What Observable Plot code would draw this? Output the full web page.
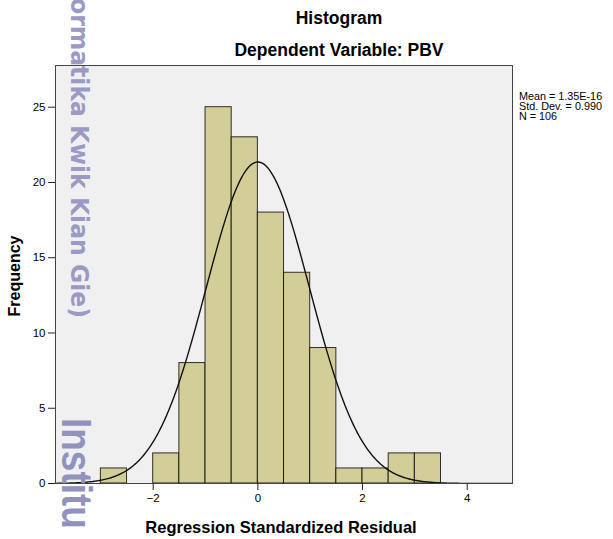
<!DOCTYPE html>
<html>
<head>
<meta charset="utf-8">
<script src="https://cdn.jsdelivr.net/npm/d3@7"></script>
<script src="https://cdn.jsdelivr.net/npm/@observablehq/plot@0.6"></script>
<style>
  html, body { margin: 0; padding: 0; background: #fff; }
  #chart { width: 613px; height: 539px; overflow: hidden; }
</style>
</head>
<body>
<div id="chart"></div>
<script>
// Histogram bins (lower edges) and frequencies, bin width 0.5
const binStart = [-3, -2, -1.5, -1, -0.5, 0, 0.5, 1, 1.5, 2, 2.5, 3];
const frequency = [1, 2, 8, 25, 23, 18, 14, 9, 1, 1, 2, 2];
const binWidth = 0.5;

// Fitted normal curve parameters (from the legend)
const statMean = 1.35e-16;
const statSD = 0.990;
const statN = 106;
const legendLines = ["Mean = 1.35E-16", "Std. Dev. = 0.990", "N = 106"];

const xTicks = [-2, 0, 2, 4];
const yTicks = [0, 5, 10, 15, 20, 25];
const xDomain = [-3.867, 4.866];
const yDomain = [0, 27.77];

const bars = binStart.map((b, i) => ({x1: b, x2: b + binWidth, y: frequency[i]}));

// Theoretical normal density scaled to counts: N * binWidth * pdf(x)
const curvePts = d3.range(xDomain[0], xDomain[1] + 0.001, 0.02).map(x => ({
  x,
  y: statN * binWidth * Math.exp(-0.5 * ((x - statMean) / statSD) ** 2) / (statSD * Math.sqrt(2 * Math.PI))
}));

const font = "'Liberation Sans', Arial, sans-serif";

const chart = Plot.plot({
  width: 613,
  height: 539,
  marginLeft: 55,
  marginRight: 101,
  marginTop: 65,
  marginBottom: 56,
  style: {fontFamily: font, fontSize: "11px", background: "#fff", color: "#000"},
  x: {domain: xDomain},
  y: {domain: yDomain},
  marks: [
    Plot.frame({fill: "#f0f0f0", stroke: null}),
    Plot.rectY(bars, {x1: "x1", x2: "x2", y: "y", fill: "#d3ce97", stroke: "#000", strokeOpacity: 0.8, strokeWidth: 1}),
    Plot.line(curvePts, {x: "x", y: "y", stroke: "#111", strokeWidth: 1.4, clip: true}),
    Plot.frame({stroke: "#444", strokeWidth: 1}),
    Plot.axisX({ticks: xTicks, tickSize: 7, tickPadding: 3, label: null, fontSize: 11.5, stroke: "#222"}),
    Plot.axisY({ticks: yTicks, tickSize: 7, tickPadding: 3, label: null, fontSize: 11.5, stroke: "#222"})
  ]
});

document.getElementById("chart").appendChild(chart);

const svg = d3.select(chart);

// Titles
svg.append("text").attr("x", 339).attr("y", 24).attr("text-anchor", "middle")
  .style("font-family", font).style("font-size", "17.5px").style("font-weight", "bold")
  .text("Histogram");
svg.append("text").attr("x", 339).attr("y", 56).attr("text-anchor", "middle")
  .style("font-family", font).style("font-size", "17.5px").style("font-weight", "bold")
  .text("Dependent Variable: PBV");

// Axis labels
svg.append("text").attr("x", 281).attr("y", 533).attr("text-anchor", "middle")
  .style("font-family", font).style("font-size", "16.5px").style("font-weight", "bold")
  .text("Regression Standardized Residual");
svg.append("text").attr("transform", "translate(20,276) rotate(-90)").attr("text-anchor", "middle")
  .style("font-family", font).style("font-size", "16px").style("font-weight", "bold")
  .text("Frequency");

// Legend (statistics)
legendLines.forEach((t, i) => {
  svg.append("text").attr("x", 519).attr("y", 100 + i * 10.2).attr("text-anchor", "start")
    .style("font-family", font).style("font-size", "10.8px")
    .text(t);
});

// Watermark
svg.append("text").attr("transform", "translate(71,-2) rotate(90)").attr("text-anchor", "start")
  .attr("textLength", 320).attr("lengthAdjust", "spacingAndGlyphs")
  .style("font-family", "'DejaVu Sans', sans-serif").style("font-size", "24px").style("font-weight", "bold")
  .style("fill", "#9a9ac4")
  .text("ormatika Kwik Kian Gie)");
svg.append("text").attr("transform", "translate(62,418) rotate(90) scale(0.88,1)").attr("text-anchor", "start")
  .style("font-family", font).style("font-size", "42px").style("font-weight", "bold")
  .style("fill", "#9292be")
  .text("Institu");
</script>
</body>
</html>
